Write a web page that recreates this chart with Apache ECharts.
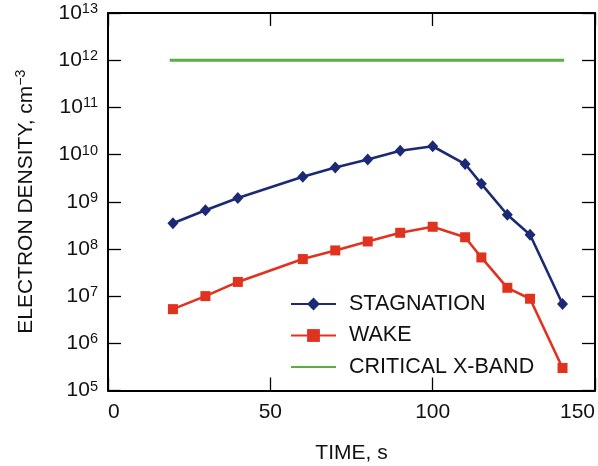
<!DOCTYPE html>
<html>
<head>
<meta charset="utf-8">
<script src="https://cdn.jsdelivr.net/npm/echarts@6/dist/echarts.min.js"></script>
<style>
html,body{margin:0;padding:0;background:#fff;}
#c{width:598px;height:466px;}
</style>
</head>
<body>
<div id="c"></div>
<script>
// Data
var stagnationTime = [20, 30, 40, 60, 70, 80, 90, 100, 110, 115, 123, 130, 140];
var stagnationDensity = [3.5e8, 6.6e8, 1.2e9, 3.4e9, 5.3e9, 7.9e9, 1.2e10, 1.5e10, 6.3e9, 2.4e9, 5.3e8, 2.0e8, 6.8e6];
var wakeTime = [20, 30, 40, 60, 70, 80, 90, 100, 110, 115, 123, 130, 140];
var wakeDensity = [5.3e6, 1.0e7, 2.0e7, 6.1e7, 9.3e7, 1.44e8, 2.2e8, 2.95e8, 1.77e8, 6.6e7, 1.5e7, 8.8e6, 3.0e5];
var criticalTime = [19, 140.5];
var criticalDensity = [1e12, 1e12];
var seriesNames = ['STAGNATION', 'WAKE', 'CRITICAL X-BAND'];
var xTicks = [0, 50, 100, 150];

function pairs(xs, ys) { return xs.map(function (x, i) { return [x, ys[i]]; }); }

var FONT = '"Liberation Sans", Arial, Helvetica, sans-serif';
var chart = echarts.init(document.getElementById('c'), null, {renderer: 'canvas'});

var axisLineStyle = {color: '#000', width: 2};
var tickStyle = {color: '#000', width: 1.3};

chart.setOption({
  animation: false,
  backgroundColor: '#fff',
  textStyle: {fontFamily: FONT},
  grid: {left: 108, right: 3, top: 13, bottom: 75.5, containLabel: false, outerBoundsMode: 'none'},
  legend: {
    left: 290, top: 293, orient: 'vertical', padding: 0,
    itemWidth: 45, itemHeight: 16, itemGap: 9.5,
    textStyle: {fontFamily: FONT, fontSize: 21.5, color: '#111', lineHeight: 22, padding: [0, 0, 0, 8]},
    data: seriesNames
  },
  xAxis: [{
    type: 'value', min: xTicks[0], max: xTicks[xTicks.length - 1], interval: 50,
    position: 'bottom',
    name: 'TIME, s', nameLocation: 'middle', nameGap: 52,
    nameTextStyle: {fontFamily: FONT, fontSize: 21, color: '#111'},
    axisLine: {show: true, onZero: false, lineStyle: axisLineStyle},
    axisTick: {show: true, inside: true, length: 13, lineStyle: tickStyle},
    axisLabel: {fontFamily: FONT, fontSize: 21, color: '#111', margin: 11, alignMinLabel: 'left', alignMaxLabel: 'right'},
    splitLine: {show: false}
  }, {
    type: 'value', min: xTicks[0], max: xTicks[xTicks.length - 1], interval: 50,
    position: 'top',
    axisLine: {show: true, onZero: false, lineStyle: axisLineStyle},
    axisTick: {show: true, inside: true, length: 13, lineStyle: tickStyle},
    axisLabel: {show: false},
    splitLine: {show: false}
  }],
  yAxis: [{
    type: 'log', logBase: 10, min: 1e5, max: 1e13, splitNumber: 8,
    position: 'left',
    name: '{t|ELECTRON DENSITY, cm}{u|\u22123}', nameLocation: 'middle', nameGap: 70, nameRotate: 90,
    nameTextStyle: {
      rich: {
        t: {fontFamily: FONT, fontSize: 21, color: '#111', lineHeight: 24},
        u: {fontFamily: FONT, fontSize: 14, color: '#111', verticalAlign: 'top', lineHeight: 14}
      }
    },
    axisLine: {show: true, onZero: false, lineStyle: axisLineStyle},
    axisTick: {show: true, inside: true, length: 13, lineStyle: tickStyle},
    axisLabel: {
      margin: 10,
      formatter: function (v) {
        var e = Math.round(Math.log(v) / Math.LN10);
        return '{b|10}{s|' + e + '}';
      },
      rich: {
        b: {fontFamily: FONT, fontSize: 21, color: '#111', lineHeight: 23},
        s: {fontFamily: FONT, fontSize: 14.5, color: '#111', verticalAlign: 'top', lineHeight: 14}
      }
    },
    splitLine: {show: false}
  }, {
    type: 'log', logBase: 10, min: 1e5, max: 1e13, splitNumber: 8,
    position: 'right',
    axisLine: {show: true, onZero: false, lineStyle: axisLineStyle},
    axisTick: {show: true, inside: true, length: 13, lineStyle: tickStyle},
    axisLabel: {show: false},
    splitLine: {show: false}
  }],
  series: [{
    name: seriesNames[0], type: 'line', xAxisIndex: 0, yAxisIndex: 0,
    data: pairs(stagnationTime, stagnationDensity),
    symbol: 'diamond', symbolSize: [11, 12],
    itemStyle: {color: '#1c2a76'},
    lineStyle: {color: '#1c2a76', width: 2.6}
  }, {
    name: seriesNames[1], type: 'line', xAxisIndex: 0, yAxisIndex: 0,
    data: pairs(wakeTime, wakeDensity),
    symbol: 'rect', symbolSize: 10,
    itemStyle: {color: '#e0321f'},
    lineStyle: {color: '#e0321f', width: 2.6}
  }, {
    name: seriesNames[2], type: 'line', xAxisIndex: 0, yAxisIndex: 0,
    data: pairs(criticalTime, criticalDensity),
    symbol: 'none', showSymbol: false,
    itemStyle: {color: '#5aae44', opacity: 0},
    lineStyle: {color: '#5aae44', width: 3, opacity: 1},
    emphasis: {disabled: true}
  }]
});
</script>
</body>
</html>
